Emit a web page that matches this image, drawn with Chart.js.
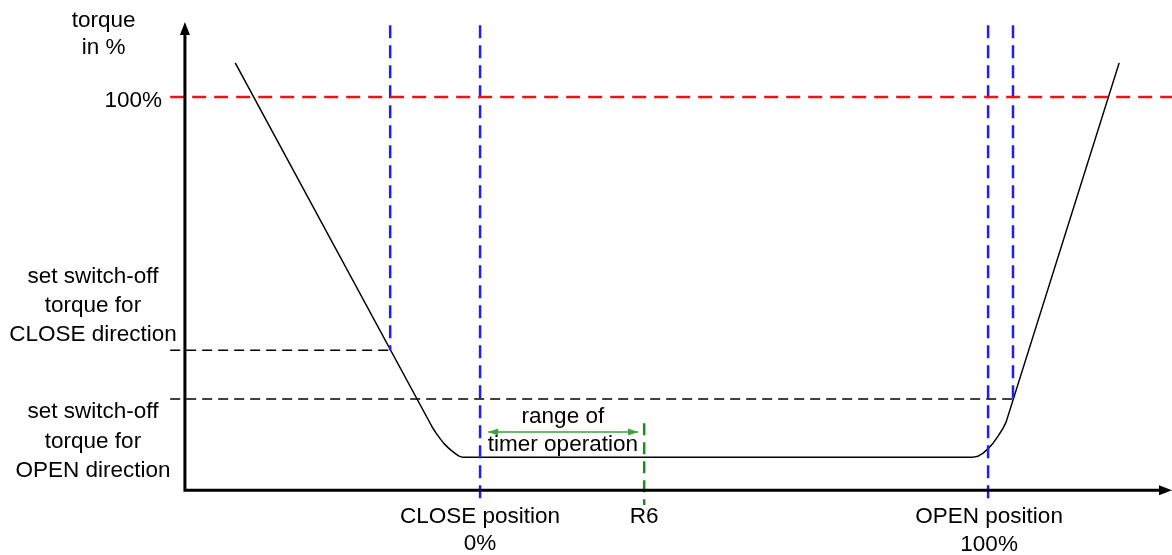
<!DOCTYPE html>
<html>
<head>
<meta charset="utf-8">
<title>torque over travel</title>
<script src="https://cdn.jsdelivr.net/npm/chart.js@4"></script>
<style>
    body { margin: 0; background: #fff; }
    canvas { display: block; }
</style>
</head>
<body>
<canvas id="torqueChart" width="1172" height="555"></canvas>
<script>
// position in % travel (CLOSE = 0, OPEN = 100), torque in %
const curveX = [-48.2, -9.4, -8.66, -7.87, -7.09, -6.30, -5.51, -4.72, -4.13, -3.54,
    97.05, 98.03, 99.02, 100.0, 100.98, 101.97, 102.95, 103.54, 125.8];
const curveY = [108.7, 16.0, 14.5, 13.1, 11.83, 10.81, 9.92, 9.16, 8.65, 8.4,
    8.4, 8.65, 9.41, 10.56, 11.96, 13.74, 15.78, 17.3, 108.7];

const xRange = [-94.5, 136.2];
const yRange = [-16.5, 124.7];
const yAxisAt = -58.1;
const axisTop = 119.1;
const lineStart = -61.0;

const fullTorque = 100;
const closeTorque = 35.6;
const openTorque = 23.2;
const closeTorqueEnd = -17.7;
const openTorqueEnd = 104.9;

const blueX = [-17.7, 0, 100, 104.9];
const blueBottom = [35.6, -3.8, -3.8, 23.2];
const blueTop = 118.3;

const r6X = 32.3;
const r6Range = [17.0, -3.8];
const timerArrowX = [1.6, 31.1];
const timerArrowY = 14.8;

const labelText = ['torque', 'in %', '100%',
    'set switch-off', 'torque for', 'CLOSE direction',
    'set switch-off', 'torque for', 'OPEN direction',
    'CLOSE position', '0%', 'R6', 'OPEN position', '100%',
    'range of', 'timer operation'];
const labelX = [-74.1, -74.1, -62.6, -76.2, -76.2, -76.2, -76.2, -76.2, -76.2, 0, 0, 32.3, 100.2, 100.2, 16.3, 16.3];
const labelY = [117.8, 110.9, 97.5, 52.7, 45.3, 37.9, 18.3, 10.7, 3.3, -8.4, -15.3, -8.4, -8.4, -15.5, 17.0, 9.9];
const labelAlign = ['center', 'center', 'right', 'center', 'center', 'center', 'center', 'center', 'center',
    'center', 'center', 'center', 'center', 'center', 'center', 'center'];

function seg(x1, y1, x2, y2) {
    return [{x: x1, y: y1}, {x: x2, y: y2}];
}

function dashed(data, color, width, dash) {
    return {data: data, borderColor: color, borderWidth: width, borderDash: dash, fill: false, tension: 0};
}

const datasets = [
    dashed(seg(lineStart, fullTorque, xRange[1], fullTorque), '#e8141a', 2.5, [14, 8]),
    dashed(seg(lineStart, closeTorque, closeTorqueEnd, closeTorque), '#000', 1.5, [10, 6]),
    dashed(seg(lineStart, openTorque, openTorqueEnd, openTorque), '#000', 1.5, [10, 6])
];
blueX.forEach((x, i) => {
    datasets.push(dashed(seg(x, blueTop, x, blueBottom[i]), '#1f1fee', 2.5, [13, 7]));
});
datasets.push(dashed(seg(r6X, r6Range[0], r6X, r6Range[1]), '#1c8c1c', 2.5, [12, 7]));
datasets.push(dashed(seg(timerArrowX[0], timerArrowY, timerArrowX[1], timerArrowY), '#3aa33a', 1.5, []));
datasets.push({
    data: curveX.map((x, i) => ({x: x, y: curveY[i]})),
    borderColor: '#000',
    borderWidth: 1.5,
    tension: 0,
    borderJoinStyle: 'round',
    fill: false
});

function arrowHead(ctx, x, y, dx, dy, len, half) {
    ctx.beginPath();
    ctx.moveTo(x, y);
    ctx.lineTo(x - dx * len - dy * half, y - dy * len + dx * half);
    ctx.lineTo(x - dx * len + dy * half, y - dy * len - dx * half);
    ctx.closePath();
    ctx.fill();
}

const diagramPlugin = {
    id: 'diagram',
    afterDatasetsDraw(chart) {
        const ctx = chart.ctx;
        const xs = chart.scales.x, ys = chart.scales.y;
        const ax = xs.getPixelForValue(yAxisAt);
        const ay = ys.getPixelForValue(0);
        const top = ys.getPixelForValue(axisTop);
        const right = xs.getPixelForValue(xRange[1]);

        ctx.save();
        ctx.strokeStyle = '#000';
        ctx.fillStyle = '#000';
        ctx.lineWidth = 3;
        ctx.beginPath();
        ctx.moveTo(ax, ay);
        ctx.lineTo(ax, top + 8);
        ctx.moveTo(ax - 1.5, ay);
        ctx.lineTo(right - 8, ay);
        ctx.stroke();
        arrowHead(ctx, ax, top, 0, -1, 13, 5);
        arrowHead(ctx, right, ay, 1, 0, 13, 5);

        // timer range arrow heads
        ctx.fillStyle = '#3aa33a';
        const gy = ys.getPixelForValue(timerArrowY);
        arrowHead(ctx, xs.getPixelForValue(timerArrowX[0]), gy, -1, 0, 10, 3.5);
        arrowHead(ctx, xs.getPixelForValue(timerArrowX[1]), gy, 1, 0, 10, 3.5);

        ctx.fillStyle = '#000';
        ctx.font = '22.5px "Liberation Sans", Arial, sans-serif';
        ctx.textBaseline = 'alphabetic';
        labelText.forEach((t, i) => {
            ctx.textAlign = labelAlign[i];
            ctx.fillText(t, xs.getPixelForValue(labelX[i]), ys.getPixelForValue(labelY[i]));
        });
        ctx.restore();
    }
};

new Chart(document.getElementById('torqueChart').getContext('2d'), {
    type: 'line',
    data: {datasets: datasets},
    options: {
        responsive: false,
        animation: false,
        devicePixelRatio: 1,
        layout: {padding: 0},
        elements: {point: {radius: 0}},
        scales: {
            x: {type: 'linear', min: xRange[0], max: xRange[1], display: false},
            y: {type: 'linear', min: yRange[0], max: yRange[1], display: false}
        },
        plugins: {legend: {display: false}, tooltip: {enabled: false}}
    },
    plugins: [diagramPlugin]
});
</script>
</body>
</html>
